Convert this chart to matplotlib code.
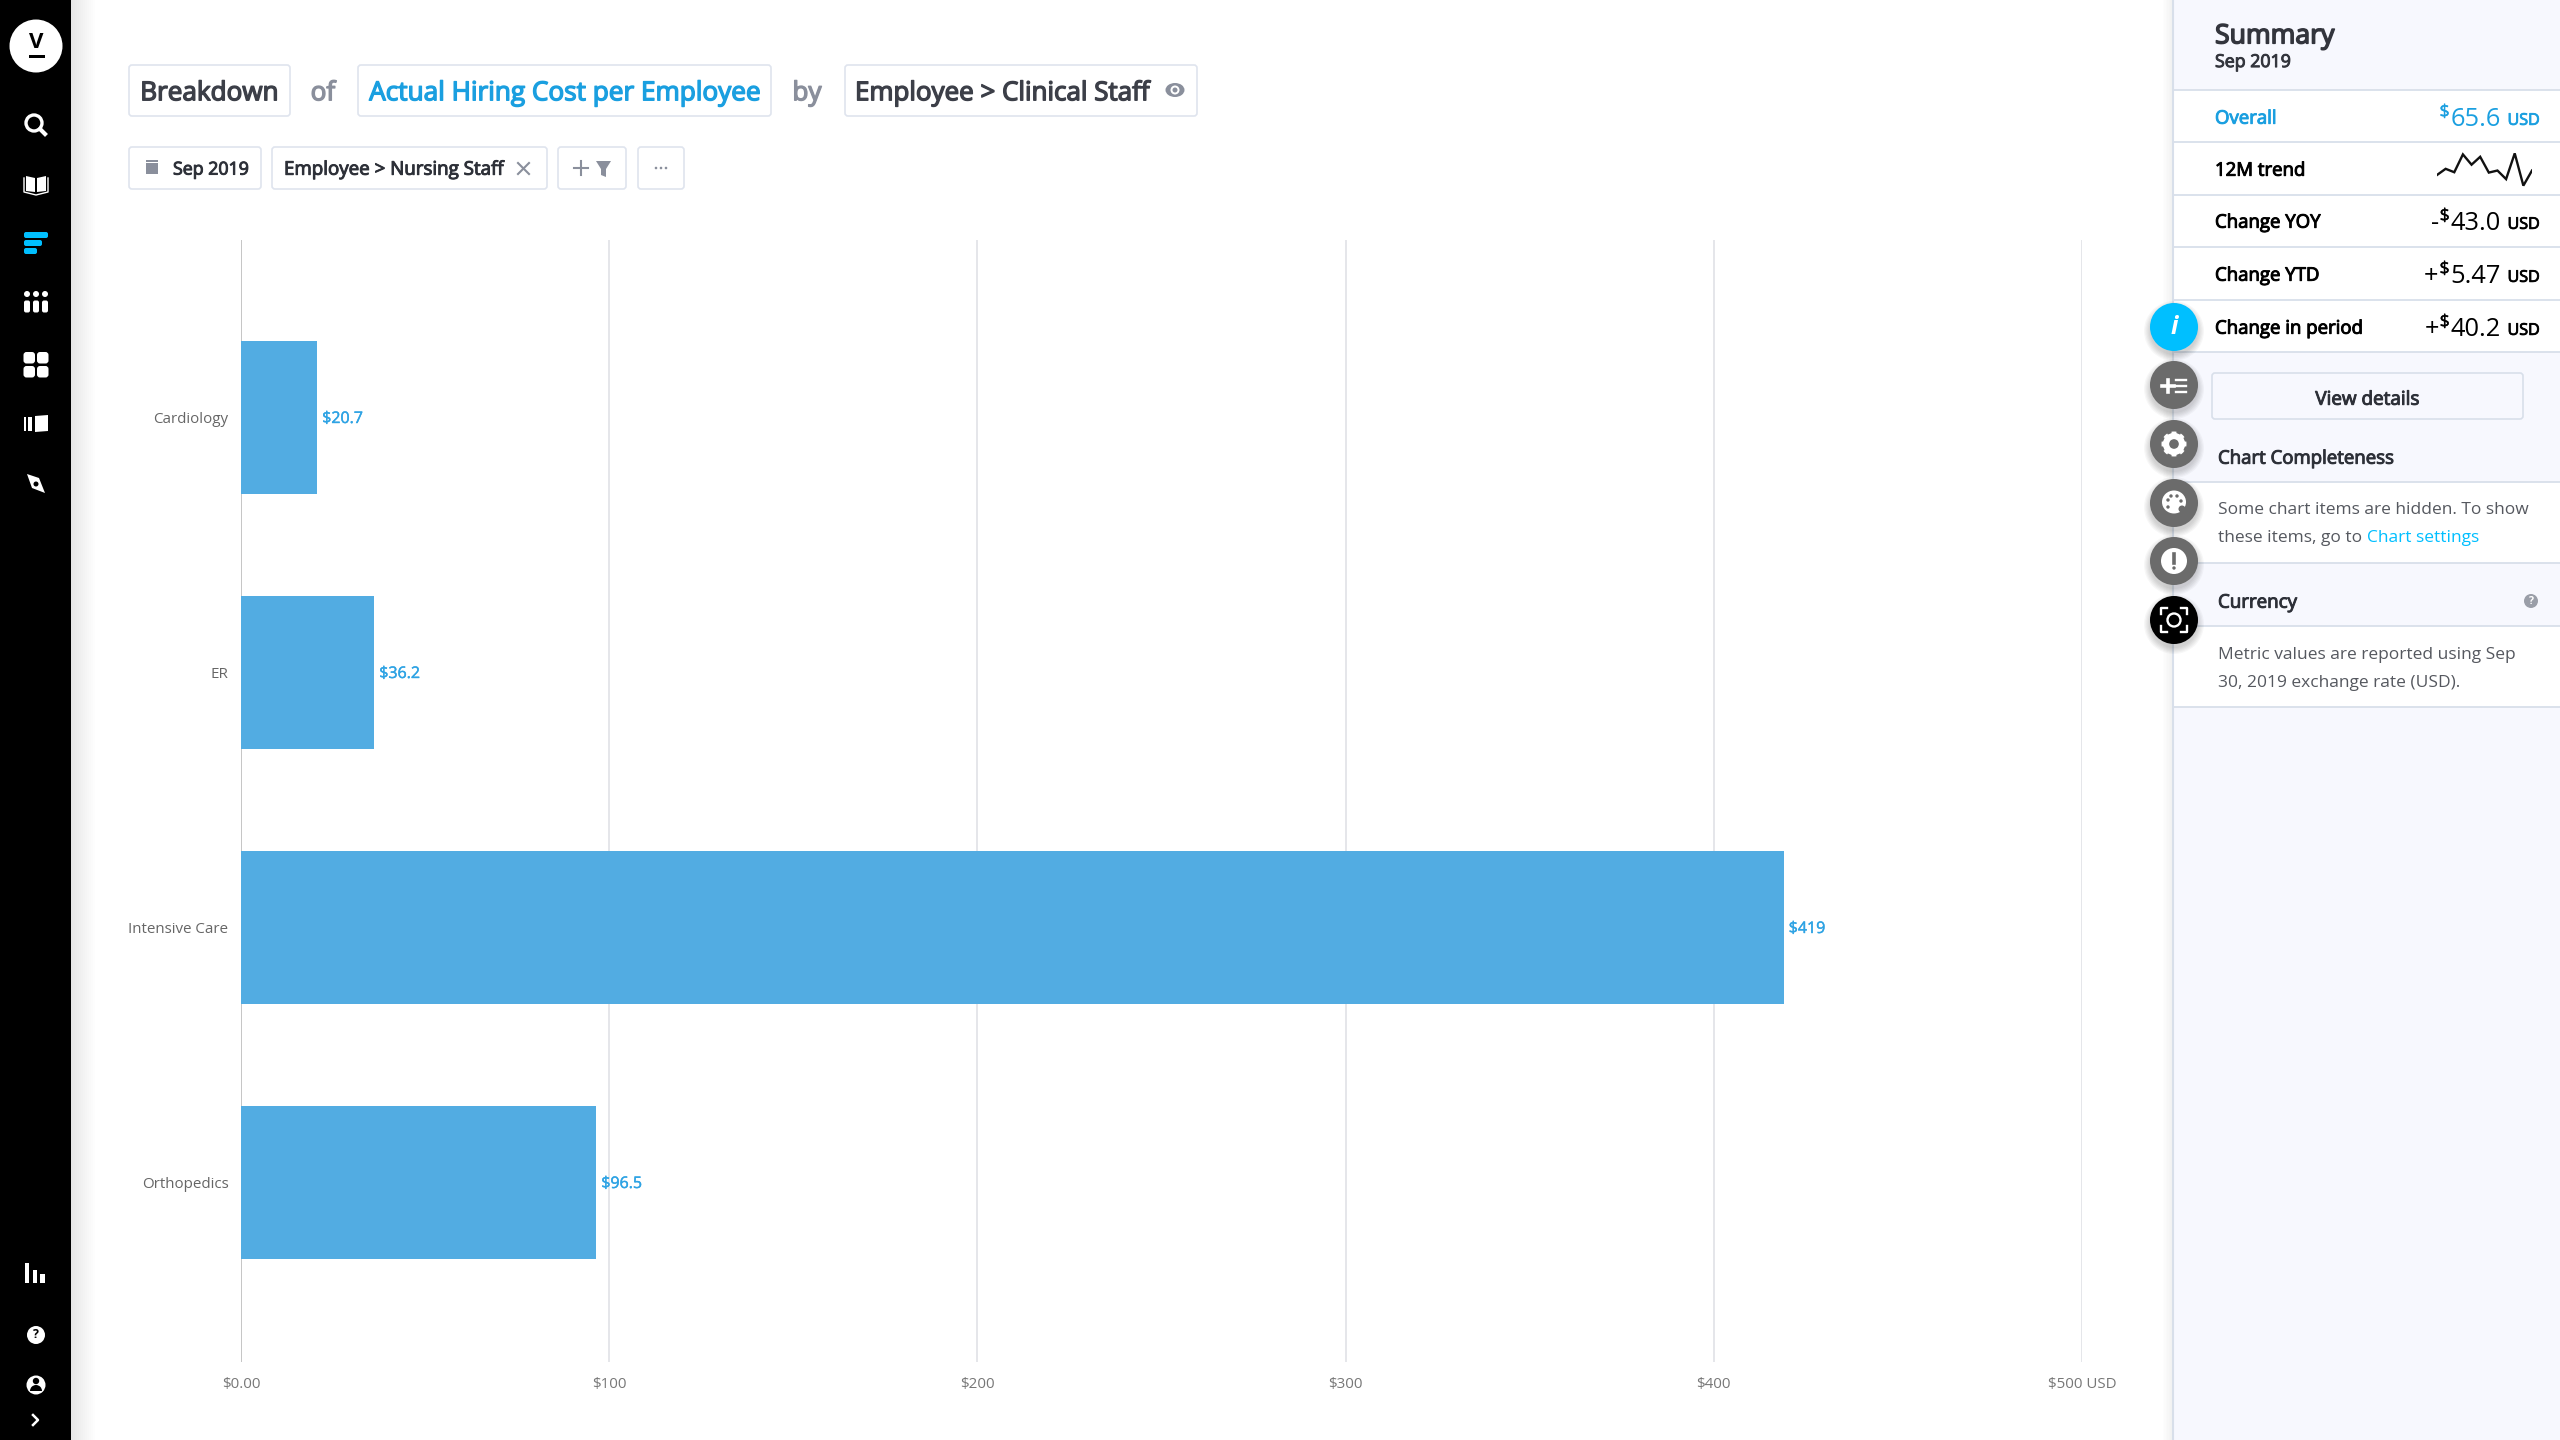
import matplotlib
matplotlib.use("Agg")
import matplotlib.pyplot as plt
import matplotlib.patheffects as pe
from matplotlib.patches import Rectangle, FancyBboxPatch, Circle, Polygon, Wedge, Ellipse
from matplotlib.lines import Line2D

# ---------- data ----------
categories = ["Cardiology", "ER", "Intensive Care", "Orthopedics"]
values = [20.7, 36.2, 419, 96.5]
value_labels = ["$20.7", "$36.2", "$419", "$96.5"]
x_ticks = [0, 100, 200, 300, 400, 500]
x_tick_labels = ["$0.00", "$100", "$200", "$300", "$400", "$500 USD"]
trend_12m = [35, 53, 43, 95, 65, 88, 42, 48, 23, 98, 4, 48]
summary_rows = ["Overall", "12M trend", "Change YOY", "Change YTD", "Change in period"]
summary_signs = ["", None, "-", "+", "+"]
summary_values = ["65.6", None, "43.0", "5.47", "40.2"]

# ---------- style ----------
FONT = ["Open Sans", "DejaVu Sans"]
plt.rcParams["font.family"] = FONT
BLUE = "#1a9fe0"
CYAN = "#00bfff"
DARK = "#3c3f48"
BORDER = "#dfe4ee"
PANEL = "#f7f8fe"
LINE = "#d8dfea"

fig = plt.figure(figsize=(25.6, 14.4), dpi=100, facecolor="white")
bg = fig.add_axes([0, 0, 1, 1], zorder=0)
bg.set_xlim(0, 2560)
bg.set_ylim(1440, 0)
bg.axis("off")

def rect(x0, y0, x1, y1, **kw):
    kw.setdefault("lw", 0)
    bg.add_patch(Rectangle((x0, y0), x1 - x0, y1 - y0, **kw))

def box(x0, y0, x1, y1, fc="white", ec=BORDER, lw=1.2, z=2):
    bg.add_patch(FancyBboxPatch((x0 + 3, y0 + 3), x1 - x0 - 6, y1 - y0 - 6,
                                boxstyle="round,pad=3,rounding_size=3",
                                fc=fc, ec=ec, lw=lw, zorder=z))

def txt(x, y, s, size, color=DARK, strong=0.0, ha="left", z=5, **kw):
    t = bg.text(x, y + 0.2 * size, s, fontsize=size, color=color, ha=ha, va="center", zorder=z, **kw)
    if strong:
        t.set_path_effects([pe.withStroke(linewidth=strong, foreground=color)])
    return t

# ---------- side panel ----------
rect(2173, 0, 2560, 1440, fc=PANEL, zorder=1)
for i in range(8):
    rect(2173 - i * 1.5, 0, 2173, 1440, fc="#000000", alpha=0.006, zorder=1)
bg.add_line(Line2D([2173, 2173], [0, 1440], color=LINE, lw=1.5, zorder=2))
for y0, y1 in [(90, 352), (482, 563), (626, 707)]:
    rect(2173, y0, 2560, y1, fc="white", zorder=1.5)
for y in [90, 142, 195, 247, 300, 352, 482, 563, 626, 707]:
    bg.add_line(Line2D([2173, 2560], [y, y], color=LINE, lw=1.3, zorder=2))

txt(2215, 32.5, "Summary", 19.2, color="#33353d", strong=1.1)
txt(2215, 59.5, "Sep 2019", 12.8, color="#33353d", strong=0.7)

rend = fig.canvas.get_renderer()
row_y = [116, 168, 220, 273, 326]
for i, label in enumerate(summary_rows):
    col = BLUE if i == 0 else "#000000"
    txt(2215, row_y[i], label, 13.4, color=col, strong=0.7)
    if summary_values[i] is None:
        continue
    y = row_y[i] - 0.5
    txt(2540, y + 3, "USD", 11.6, color=col, strong=0.6, ha="right")
    num = txt(2501, y, summary_values[i], 18.3, color=col, ha="right")
    left = num.get_window_extent(rend).x0
    d = txt(left - 1, y - 5, "$", 12.5, color=col, strong=0.3, ha="right")
    left = d.get_window_extent(rend).x0
    if summary_signs[i]:
        txt(left - 1, y, summary_signs[i], 18.3, color=col, ha="right")

spark = fig.add_axes([2437 / 2560, 1 - 187 / 1440, 95 / 2560, 35 / 1440], zorder=3)
spark.patch.set_alpha(0)
spark.axis("off")
spark.plot(range(len(trend_12m)), trend_12m, color="#111111", lw=1.7, solid_joinstyle="miter")
spark.set_xlim(0, len(trend_12m) - 1)
spark.set_ylim(0, 102)

box(2212, 373, 2523, 419, fc=PANEL, ec=LINE)
txt(2367.5, 397, "View details", 13.6, color="#2d3038", strong=0.7, ha="center")
txt(2218, 456, "Chart Completeness", 13.4, color="#2d3038", strong=0.7)
txt(2218, 507.5, "Some chart items are hidden. To show", 12.55, color="#55585f")
txt(2218, 535.5, "these items, go to ", 12.55, color="#55585f")
txt(2367, 535.5, "Chart settings", 12.55, color=CYAN)
txt(2218, 600, "Currency", 13.5, color="#2d3038", strong=0.7)
bg.add_patch(Circle((2531, 601), 7, fc="#9a9ea8", lw=0, zorder=4))
bg.text(2531, 601, "?", fontsize=7.5, color="white", fontweight="bold", ha="center", va="center", zorder=5)
txt(2218, 652.5, "Metric values are reported using Sep", 12.55, color="#55585f")
txt(2218, 680.5, "30, 2019 exchange rate (USD).", 12.55, color="#55585f")

# floating round buttons
btn_y = [327, 385, 444, 503, 561, 620]
btn_c = [CYAN, "#6b6b6b", "#6b6b6b", "#6b6b6b", "#6b6b6b", "#000000"]
for y, c in zip(btn_y, btn_c):
    for k in range(6):
        bg.add_patch(Circle((2174, y + 4), 24 + k * 1.2, fc="black", alpha=0.03, lw=0, zorder=5))
    bg.add_patch(Circle((2174, y), 24, fc=c, lw=0, zorder=6))

W = dict(zorder=7)
bg.text(2174, 327, "i", fontsize=18, color="white", fontweight="bold", fontstyle="italic",
        ha="center", va="center", zorder=7)
# add-list icon
bg.add_line(Line2D([2162, 2174], [386, 386], color="white", lw=2.6, **W))
bg.add_line(Line2D([2168, 2168], [380, 392], color="white", lw=2.6, **W))
for yy in [380, 386, 392]:
    bg.add_line(Line2D([2176, 2186], [yy, yy], color="white", lw=1.7, **W))
# gear
bg.add_patch(Circle((2174, 444), 8, fc="none", ec="white", lw=4.5, **W))
for k in range(8):
    bg.add_patch(Wedge((2174, 444), 12.5, k * 45 - 12, k * 45 + 12, fc="white", lw=0, width=4, **W))
# palette
bg.add_patch(Ellipse((2174, 502), 24, 23, fc="white", lw=0, **W))
for dx, dy in [(-6, -2), (-3, -6), (3, -6), (7, -1), (-6, 5)]:
    bg.add_patch(Circle((2174 + dx, 502 + dy), 1.7, fc="#6b6b6b", lw=0, zorder=8))
bg.add_patch(Circle((2182, 509), 3.5, fc="#6b6b6b", lw=0, zorder=8))
# alert
bg.add_patch(Circle((2174, 561), 13, fc="white", lw=0, **W))
bg.add_line(Line2D([2174, 2174], [554, 563], color="#6b6b6b", lw=2.6, zorder=8))
bg.add_patch(Circle((2174, 568), 1.7, fc="#6b6b6b", lw=0, zorder=8))
# camera frame
bg.add_patch(Circle((2174, 620), 6.5, fc="none", ec="white", lw=1.7, **W))
for sx in (-1, 1):
    for sy in (-1, 1):
        bg.add_line(Line2D([2174 + sx * 7, 2174 + sx * 13, 2174 + sx * 13],
                           [620 + sy * 12, 620 + sy * 12, 620 + sy * 6],
                           color="white", lw=1.7, **W))

# ---------- left nav ----------
for i in range(12):
    rect(71, 0, 71 + (i + 1) * 2, 1440, fc="#000000", alpha=0.006, zorder=0.5)
rect(0, 0, 71, 1440, fc="#000000", zorder=1)
N = dict(zorder=2)
bg.add_patch(Circle((36, 46), 26.5, fc="white", lw=0, **N))
bg.text(36, 43, "V", fontsize=16, color="black", fontweight="bold", ha="center", va="center", zorder=3)
rect(28.5, 54.5, 45, 58, fc="black", zorder=3)
# search
bg.add_patch(Circle((34, 123), 8, fc="none", ec="white", lw=2.4, **N))
bg.add_line(Line2D([40, 45], [129, 134], color="white", lw=3, **N))
# book
bg.add_patch(Polygon([[26, 176], [35, 178], [35, 192], [26, 191]], fc="white", lw=0, **N))
bg.add_patch(Polygon([[37, 178], [46, 176], [46, 191], [37, 192]], fc="white", lw=0, **N))
bg.add_line(Line2D([24, 24, 36, 48, 48], [178, 192, 195, 192, 178], color="white", lw=1, **N))
# breakdown (active)
for y0, x1 in [(233, 48), (241, 42), (249, 37)]:
    bg.add_patch(FancyBboxPatch((26, y0 + 1), x1 - 28, 2, boxstyle="round,pad=2,rounding_size=2",
                                fc=CYAN, lw=0, **N))
# people
for cx in (27, 36, 45):
    bg.add_patch(Circle((cx, 294), 3, fc="white", lw=0, **N))
    bg.add_patch(FancyBboxPatch((cx - 1.5, 302), 3, 9, boxstyle="round,pad=1.5,rounding_size=2",
                                fc="white", lw=0, **N))
# dashboard
for cx in (23.5, 37):
    for cy in (352, 366):
        bg.add_patch(FancyBboxPatch((cx + 2, cy + 2), 7.5, 7.5, boxstyle="round,pad=2,rounding_size=3",
                                    fc="white", lw=0, **N))
# storyboard
rect(24, 417, 26, 431, fc="white", zorder=2)
rect(28, 417, 32, 431, fc="white", zorder=2)
bg.add_patch(Polygon([[35, 416], [48, 415], [48, 431], [35, 432]], fc="white", lw=0, **N))
# compass
bg.add_patch(Polygon([[27, 474], [39, 478], [45, 493], [32, 488]], fc="white", lw=0, **N))
bg.add_patch(Circle((36, 484), 2.5, fc="black", lw=0, zorder=3))
# bottom icons
rect(25, 1263, 29, 1283, fc="white", zorder=2)
rect(33, 1270, 37, 1283, fc="white", zorder=2)
rect(40, 1274, 45, 1283, fc="white", zorder=2)
bg.add_patch(Circle((36, 1335), 9, fc="white", lw=0, **N))
bg.text(36, 1335, "?", fontsize=9, color="black", fontweight="bold", ha="center", va="center", zorder=3)
bg.add_patch(Circle((36, 1385), 9.5, fc="white", lw=0, **N))
bg.add_patch(Circle((36, 1381), 3.2, fc="black", lw=0, zorder=3))
bg.add_patch(Wedge((36, 1391), 6, 180, 360, fc="black", lw=0, zorder=3))
bg.add_line(Line2D([33, 38, 33], [1415, 1420, 1425], color="white", lw=1.8, **N))

# ---------- header chips ----------
box(129, 65, 290, 116)
txt(209.5, 90, "Breakdown", 18.8, strong=1.0, ha="center")
txt(323, 90, "of", 18.8, color="#8a8f9c", strong=1.0, ha="center")
box(358, 65, 771, 116)
txt(564.5, 90, "Actual Hiring Cost per Employee", 18.85, color=BLUE, strong=1.0, ha="center")
txt(807, 90, "by", 18.8, color="#8a8f9c", strong=1.0, ha="center")
box(845, 65, 1197, 116)
txt(855, 90, "Employee > Clinical Staff", 18.7, strong=1.0)
bg.add_patch(Ellipse((1175, 90), 19, 14, fc="#8a8f9c", lw=0, zorder=5))
bg.add_patch(Circle((1175, 90), 4.5, fc="white", lw=0, zorder=6))
bg.add_patch(Circle((1175, 90), 2.5, fc="#8a8f9c", lw=0, zorder=7))

box(129, 147, 261, 189)
rect(146, 163, 158, 174, fc="#8a8f9c", zorder=5)
rect(146, 160, 158, 161.5, fc="#8a8f9c", zorder=5)
txt(173, 167, "Sep 2019", 12.8, color="#2d3038", strong=0.7)
box(272, 147, 547, 189)
txt(284, 167, "Employee > Nursing Staff", 13.5, color="#2d3038", strong=0.7)
bg.add_line(Line2D([518, 529], [163, 174], color="#8a8f9c", lw=1.5, zorder=5))
bg.add_line(Line2D([518, 529], [174, 163], color="#8a8f9c", lw=1.5, zorder=5))
box(558, 147, 626, 189)
bg.add_line(Line2D([574, 588], [168, 168], color="#8a8f9c", lw=1.5, zorder=5))
bg.add_line(Line2D([581, 581], [161, 175], color="#8a8f9c", lw=1.5, zorder=5))
bg.add_patch(Polygon([[596, 161], [611, 161], [606, 169], [606, 177], [601, 175], [601, 169]],
                     fc="#8a8f9c", lw=0, zorder=5))
box(638, 147, 684, 189)
for dx in (-5, 0, 5):
    bg.add_patch(Circle((661 + dx, 168), 1.3, fc="#8a8f9c", lw=0, zorder=5))

# ---------- chart ----------
L, R, T, B = 241, 2082, 240, 1362
ax = fig.add_axes([L / 2560, 1 - B / 1440, (R - L) / 2560, (B - T) / 1440], zorder=2)
ax.patch.set_alpha(0)
ypos = range(len(categories))
ax.barh(list(ypos), values, height=0.6, color="#52ace2", zorder=3)
ax.set_xlim(0, 500)
ax.set_ylim(3.702, -0.698)
for s in ax.spines.values():
    s.set_visible(False)
ax.set_xticks(x_ticks)
ax.set_xticklabels(x_tick_labels, fontsize=10.9, color="#777777")
ax.set_yticks(list(ypos))
ax.set_yticklabels(categories, fontsize=10.9, color="#666666")
ax.tick_params(axis="x", length=0, pad=10.5)
ax.tick_params(axis="y", length=0, pad=9)
ax.grid(axis="x", color="#e0e2e6", lw=1.2, zorder=1)
ax.set_axisbelow(True)
ax.axvline(0, color="#c6c6c6", lw=1.4, zorder=2)
for yy, v, lab in zip(ypos, values, value_labels):
    ax.annotate(lab, (v, yy), xytext=(5, -1), textcoords="offset pixels", fontsize=11.5,
                color="#2ea3e4", va="center", ha="left", zorder=4,
                path_effects=[pe.withStroke(linewidth=0.3, foreground="#2ea3e4")])

fig.savefig("out.png", dpi=100)
